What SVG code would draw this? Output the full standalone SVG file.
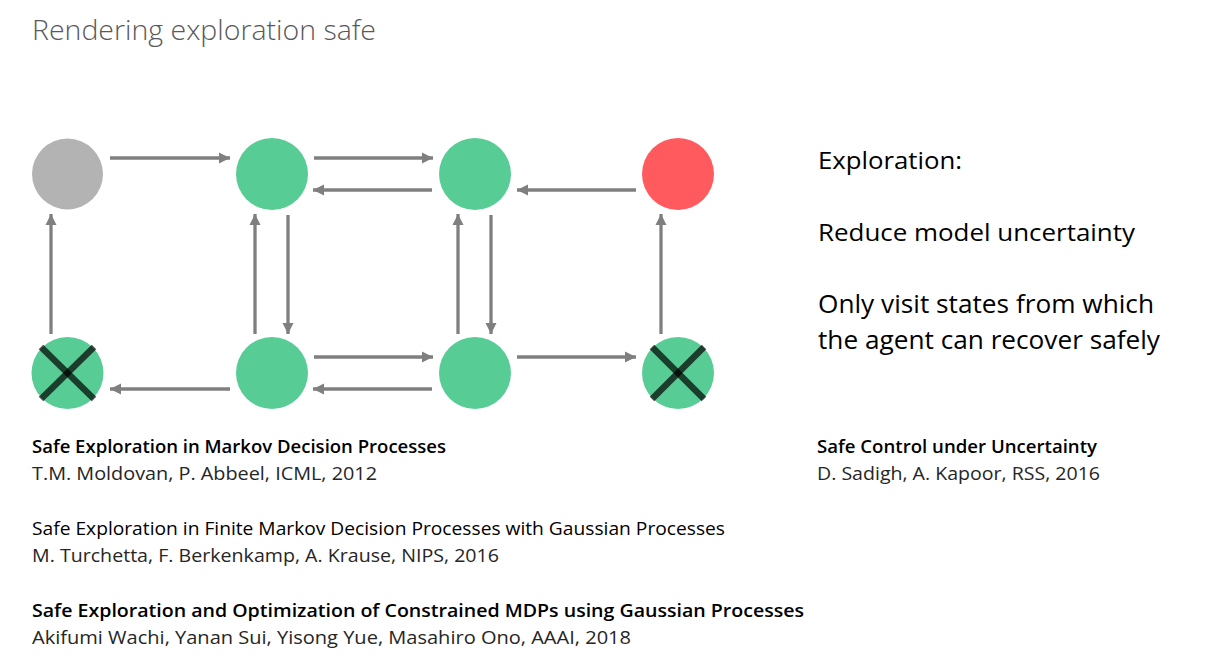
<svg xmlns="http://www.w3.org/2000/svg" width="1222" height="657" viewBox="0 0 1222 657">
<style>
.t{font-family:"Open Sans","Liberation Sans",sans-serif}
.title{font-weight:300;font-size:27px;fill:#595959}
.side{font-size:24px;fill:#000}
.side2{font-size:26px;fill:#000}
.rt{font-size:18.5px;fill:#000;font-weight:600}
.rt2{font-size:18.5px;fill:#000}
.ra{font-size:18.5px;fill:#262626}
.edge{stroke:#7f7f7f;stroke-width:3.3;fill:none;marker-end:url(#ah)}
.x{stroke:#000;stroke-opacity:0.7;stroke-width:6.5}
</style>
<defs>
<marker id="ah" viewBox="0 0 10 10" refX="10" refY="5" markerWidth="3.4" markerHeight="3.4" orient="auto" markerUnits="strokeWidth">
<path d="M0,0 L10,5 L0,10 z" fill="#7f7f7f"/>
</marker>
</defs>
<rect width="1222" height="657" fill="#fff"/>
<text class="t title" x="32" y="40" textLength="344" lengthAdjust="spacingAndGlyphs">Rendering exploration safe</text>

<g id="connectors">
<line class="edge" x1="110" y1="158" x2="230" y2="158"/>
<line class="edge" x1="314" y1="158" x2="433" y2="158"/>
<line class="edge" x1="432" y1="190" x2="313" y2="190"/>
<line class="edge" x1="636" y1="190" x2="517" y2="190"/>
<line class="edge" x1="51" y1="334" x2="51" y2="214"/>
<line class="edge" x1="255" y1="334" x2="255" y2="214"/>
<line class="edge" x1="288" y1="215" x2="288" y2="334"/>
<line class="edge" x1="458" y1="334" x2="458" y2="214"/>
<line class="edge" x1="491" y1="215" x2="491" y2="334"/>
<line class="edge" x1="661" y1="334" x2="661" y2="214"/>
<line class="edge" x1="230" y1="389" x2="110" y2="389"/>
<line class="edge" x1="314" y1="357" x2="433" y2="357"/>
<line class="edge" x1="432" y1="389" x2="313" y2="389"/>
<line class="edge" x1="517" y1="357" x2="636" y2="357"/>
</g>

<g id="n1"><circle cx="67.5" cy="174" r="35.5" fill="#b3b3b3"/></g>
<g id="n2"><circle cx="272" cy="174" r="36" fill="#58cc95"/></g>
<g id="n3"><circle cx="475" cy="174" r="36" fill="#58cc95"/></g>
<g id="n4"><circle cx="678" cy="174" r="36" fill="#ff5a5e"/></g>
<g id="n5"><circle cx="67.5" cy="373" r="36" fill="#58cc95"/>
<line class="x" x1="41" y1="347" x2="94" y2="399"/><line class="x" x1="94" y1="347" x2="41" y2="399"/></g>
<g id="n6"><circle cx="272" cy="373" r="36" fill="#58cc95"/></g>
<g id="n7"><circle cx="475" cy="373" r="36" fill="#58cc95"/></g>
<g id="n8"><circle cx="678" cy="373" r="36" fill="#58cc95"/>
<line class="x" x1="652" y1="347" x2="704" y2="399"/><line class="x" x1="704" y1="347" x2="652" y2="399"/></g>

<g id="side">
<text class="t side" x="818" y="169" textLength="144" lengthAdjust="spacingAndGlyphs">Exploration:</text>
<text class="t side" x="818" y="241" textLength="317" lengthAdjust="spacingAndGlyphs">Reduce model uncertainty</text>
<text class="t side2" x="818" y="313" textLength="336" lengthAdjust="spacingAndGlyphs">Only visit states from which</text>
<text class="t side2" x="818" y="349" textLength="342" lengthAdjust="spacingAndGlyphs">the agent can recover safely</text>
</g>

<g id="refs">
<text class="t rt" x="32" y="453" textLength="414" lengthAdjust="spacingAndGlyphs">Safe Exploration in Markov Decision Processes</text>
<text class="t ra" x="32" y="480" textLength="345" lengthAdjust="spacingAndGlyphs">T.M. Moldovan, P. Abbeel, ICML, 2012</text>
<text class="t rt2" x="32" y="535" textLength="693" lengthAdjust="spacingAndGlyphs">Safe Exploration in Finite Markov Decision Processes with Gaussian Processes</text>
<text class="t ra" x="32" y="562" textLength="467" lengthAdjust="spacingAndGlyphs">M. Turchetta, F. Berkenkamp, A. Krause, NIPS, 2016</text>
<text class="t rt" x="32" y="617" textLength="772" lengthAdjust="spacingAndGlyphs">Safe Exploration and Optimization of Constrained MDPs using Gaussian Processes</text>
<text class="t ra" x="32" y="644" textLength="599" lengthAdjust="spacingAndGlyphs">Akifumi Wachi, Yanan Sui, Yisong Yue, Masahiro Ono, AAAI, 2018</text>
<text class="t rt" x="817" y="453" textLength="280" lengthAdjust="spacingAndGlyphs">Safe Control under Uncertainty</text>
<text class="t ra" x="817" y="480" textLength="283" lengthAdjust="spacingAndGlyphs">D. Sadigh, A. Kapoor, RSS, 2016</text>
</g>
</svg>
